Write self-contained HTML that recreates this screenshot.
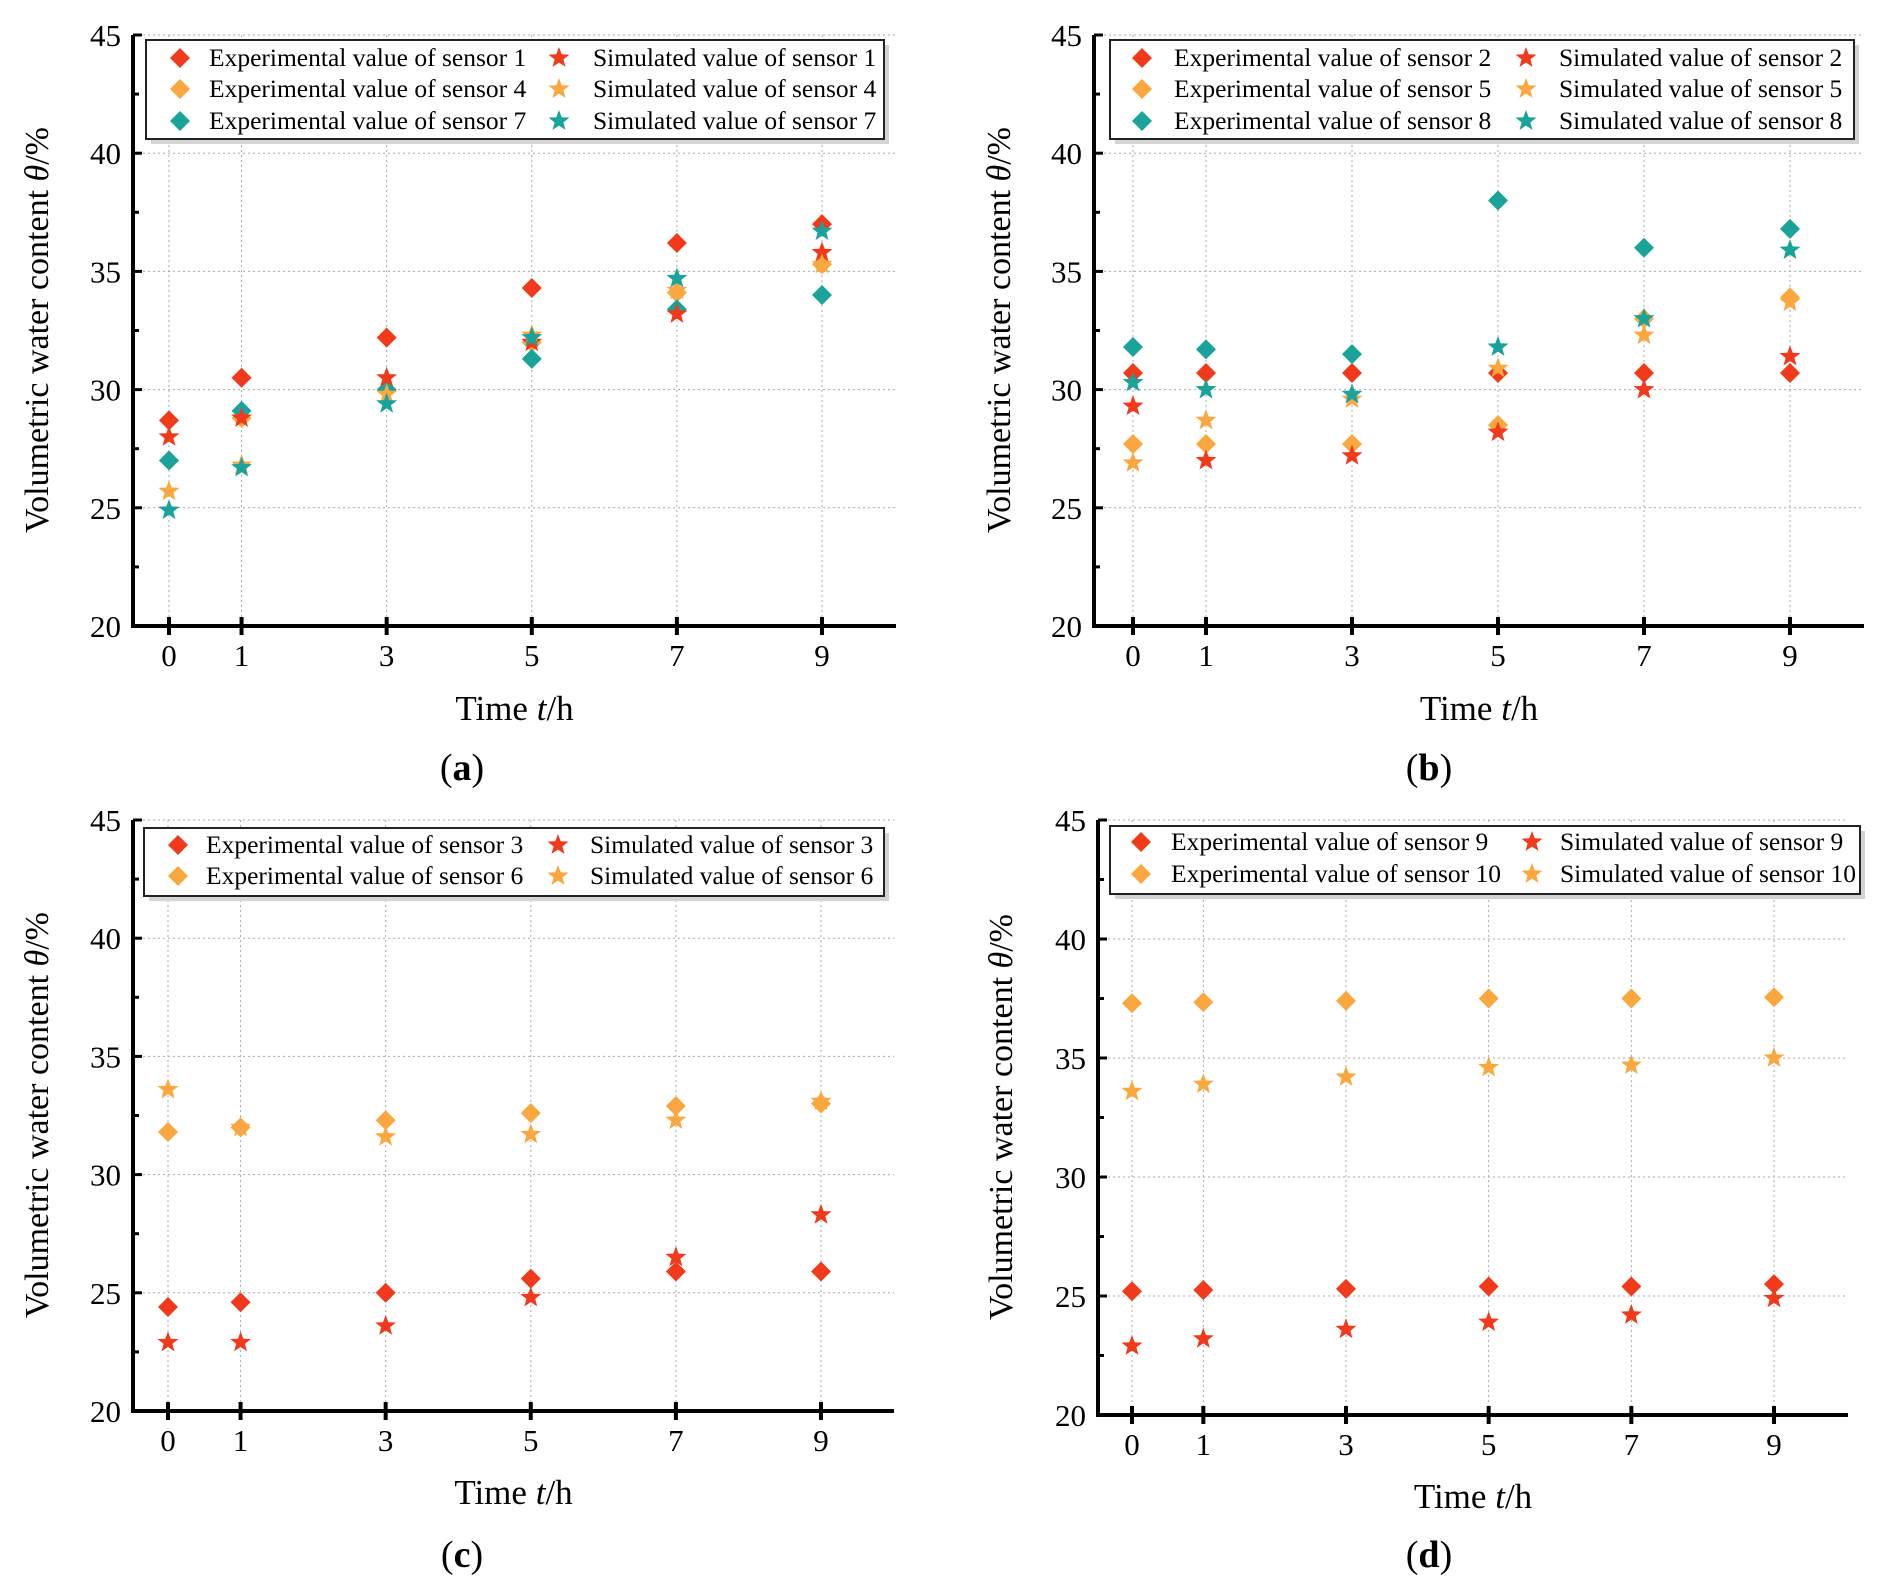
<!DOCTYPE html>
<html><head><meta charset="utf-8"><style>
html,body{margin:0;padding:0;background:#fff;}
svg{display:block;font-family:"Liberation Serif",serif;}
</style></head><body>
<svg id="fig" width="1882" height="1593" viewBox="0 0 1882 1593" xmlns="http://www.w3.org/2000/svg"></svg>
<script>
const times = [0,1,3,5,7,9];
const xTicks = [0,1,3,5,7,9];
const yTicks = [20,25,30,35,40,45];
// panel a
const expS1 = [28.7,30.5,32.2,34.3,36.2,37.0];
const expS4 = [27.0,28.8,30.0,32.0,34.1,35.3];
const expS7 = [27.0,29.1,30.0,31.3,33.4,34.0];
const simS1 = [28.0,28.8,30.5,32.0,33.2,35.8];
const simS4 = [25.7,26.8,29.8,32.3,34.2,35.3];
const simS7 = [24.9,26.7,29.4,32.2,34.7,36.7];
// panel b
const expS2 = [30.7,30.7,30.7,30.7,30.7,30.7];
const expS5 = [27.7,27.7,27.7,28.5,33.0,33.9];
const expS8 = [31.8,31.7,31.5,38.0,36.0,36.8];
const simS2 = [29.3,27.0,27.2,28.2,30.0,31.4];
const simS5 = [26.9,28.7,29.6,30.9,32.3,33.7];
const simS8 = [30.3,30.0,29.8,31.8,33.0,35.9];
// panel c
const expS3 = [24.4,24.6,25.0,25.6,25.9,25.9];
const expS6 = [31.8,32.0,32.3,32.6,32.9,33.0];
const simS3 = [22.9,22.9,23.6,24.8,26.5,28.3];
const simS6 = [33.6,32.0,31.6,31.7,32.3,33.1];
// panel d
const expS9 = [25.2,25.25,25.3,25.4,25.4,25.5];
const expS10 = [37.3,37.35,37.4,37.5,37.5,37.55];
const simS9 = [22.9,23.2,23.6,23.9,24.2,24.9];
const simS10 = [33.6,33.9,34.2,34.6,34.7,35.0];

const RED='#f03a1b', ORG='#f9a73e', TEAL='#1aa39b';
const NS='http://www.w3.org/2000/svg';
const svg=document.getElementById('fig');
function mk(tag,attrs,parent){const e=document.createElementNS(NS,tag);for(const k in attrs)e.setAttribute(k,attrs[k]);(parent||svg).appendChild(e);return e;}

const panels=[
 {id:'a',ax:133,top:35,bot:626,right:896,x0:169,x9:822,lab:'a',ytx:40,yty:330,xtY:720,plY:780,plX:462,
  leg:{x:146,y:40,w:738,rows:[58,89,121],dx:180,tx:209,sx:559,stx:593},
  series:[[expS1,RED,'Experimental value of sensor 1',simS1,'Simulated value of sensor 1'],
          [expS4,ORG,'Experimental value of sensor 4',simS4,'Simulated value of sensor 4'],
          [expS7,TEAL,'Experimental value of sensor 7',simS7,'Simulated value of sensor 7']]},
 {id:'b',ax:1094,top:35,bot:626,right:1864,x0:1133,x9:1790,lab:'b',ytx:1002,yty:330,xtY:720,plY:780,plX:1429,
  leg:{x:1110,y:40,w:744,rows:[58,89,121],dx:1142,tx:1174,sx:1526,stx:1559},
  series:[[expS2,RED,'Experimental value of sensor 2',simS2,'Simulated value of sensor 2'],
          [expS5,ORG,'Experimental value of sensor 5',simS5,'Simulated value of sensor 5'],
          [expS8,TEAL,'Experimental value of sensor 8',simS8,'Simulated value of sensor 8']]},
 {id:'c',ax:133,top:820,bot:1411,right:894,x0:168,x9:821,lab:'c',ytx:40,yty:1115,xtY:1504,plY:1567,plX:462,
  leg:{x:144,y:828,w:740,rows:[845,876],dx:178,tx:206,sx:558,stx:590},
  series:[[expS3,RED,'Experimental value of sensor 3',simS3,'Simulated value of sensor 3'],
          [expS6,ORG,'Experimental value of sensor 6',simS6,'Simulated value of sensor 6']]},
 {id:'d',ax:1098,top:820,bot:1415,right:1848,x0:1132,x9:1774,lab:'d',ytx:1004,yty:1117,xtY:1508,plY:1567,plX:1429,
  leg:{x:1110,y:826,w:750,rows:[842,874],dx:1141,tx:1171,sx:1532,stx:1560},
  series:[[expS9,RED,'Experimental value of sensor 9',simS9,'Simulated value of sensor 9'],
          [expS10,ORG,'Experimental value of sensor 10',simS10,'Simulated value of sensor 10']]}
];

function diamond(g,cx,cy,c){const r=10;return mk('polygon',{points:`${cx},${cy-r} ${cx+r},${cy} ${cx},${cy+r} ${cx-r},${cy}`,fill:c},g);}
function star(g,cx,cy,c){const R=11,r=4.6;let p=[];for(let i=0;i<10;i++){const a=-Math.PI/2+i*Math.PI/5;const rr=i%2?r:R;p.push((cx+rr*Math.cos(a)).toFixed(1)+','+(cy+rr*Math.sin(a)).toFixed(1));}return mk('polygon',{points:p.join(' '),fill:c},g);}

panels.forEach(P=>{
  const g=mk('g',{});
  
  
  const X=t=>P.x0+(P.x9-P.x0)*t/9;
  const Y=v=>P.bot-(P.bot-P.top)*(v-20)/25;
  xTicks.forEach(t=>{const l=mk('line',{x1:X(t),x2:X(t),y1:P.top,y2:P.bot,stroke:'#aaa','stroke-width':1,'stroke-dasharray':'2,3'},g);
    });
  yTicks.forEach(v=>{const l=mk('line',{x1:P.ax,x2:P.right,y1:Y(v),y2:Y(v),stroke:'#aaa','stroke-width':1,'stroke-dasharray':'2,3'},g);
    });
  const xa=mk('line',{x1:P.ax-2,x2:P.right,y1:P.bot,y2:P.bot,stroke:'#000','stroke-width':4},g);
  
  const ya=mk('line',{x1:P.ax,x2:P.ax,y1:P.top,y2:P.bot+2,stroke:'#000','stroke-width':4},g);
  
  xTicks.forEach(t=>{mk('line',{x1:X(t),x2:X(t),y1:P.bot-9,y2:P.bot+9,stroke:'#000','stroke-width':4},g);
    const tx=mk('text',{x:X(t),y:P.bot+40,'text-anchor':'middle','font-size':31},g);tx.textContent=t;
    });
  yTicks.forEach(v=>{mk('line',{x1:P.ax,x2:P.ax+9,y1:Y(v),y2:Y(v),stroke:'#000','stroke-width':3},g);
    if(v<45)mk('line',{x1:P.ax,x2:P.ax+6,y1:Y(v+2.5),y2:Y(v+2.5),stroke:'#000','stroke-width':3},g);
    const tx=mk('text',{x:P.ax-12,y:Y(v)+11,'text-anchor':'end','font-size':31},g);tx.textContent=v;
    });
  const yt=mk('text',{x:P.ytx,y:P.yty,'text-anchor':'middle','font-size':34,transform:`rotate(-90 ${P.ytx} ${P.yty})`,'dominant-baseline':'middle'},g);
  yt.innerHTML='Volumetric water content <tspan font-style="italic">θ</tspan>/%';
  
  const xt=mk('text',{x:(P.ax+P.right)/2,y:P.xtY,'text-anchor':'middle','font-size':35},g);
  xt.innerHTML='Time <tspan font-style="italic">t</tspan>/h';
  
  const pl=mk('text',{x:P.plX,y:P.plY,'text-anchor':'middle','font-size':38},g);
  pl.innerHTML='(<tspan font-weight="bold">'+P.lab+'</tspan>)';
  
  P.series.forEach(s=>{
    s[0].forEach((v,i)=>{const d=diamond(g,X(times[i]),Y(v),s[1]);
      });
  });
  P.series.forEach(s=>{
    s[3].forEach((v,i)=>{const d=star(g,X(times[i]),Y(v),s[1]);
      });
  });
  const L=P.leg;const h=L.rows.length*31+6;
  const lg=mk('g',{},g);
  
  mk('rect',{x:L.x+5,y:L.y+5,width:L.w,height:h,fill:'#d4d4d4'},lg);
  mk('rect',{x:L.x,y:L.y,width:L.w,height:h,fill:'#fff',stroke:'#222','stroke-width':2},lg);
  P.series.forEach((s,k)=>{
    const ry=L.rows[k];
    diamond(lg,L.dx,ry,s[1]);
    const t1=mk('text',{x:L.tx,y:ry+8,'font-size':25.5},lg);t1.textContent=s[2];
    
    star(lg,L.sx,ry,s[1]);
    const t2=mk('text',{x:L.stx,y:ry+8,'font-size':25.5},lg);t2.textContent=s[4];
    
  });
});
</script>
</body></html>
